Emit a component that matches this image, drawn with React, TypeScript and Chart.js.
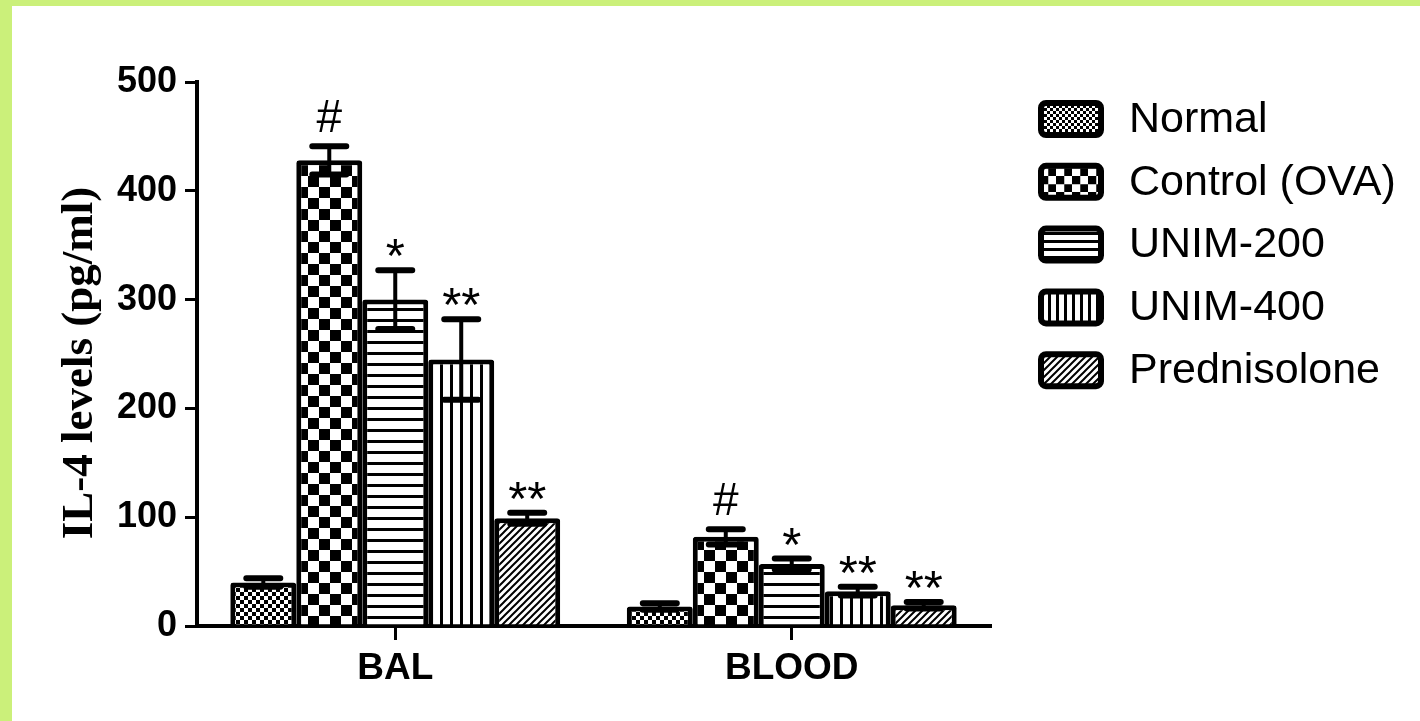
import React, { useEffect, useRef } from "react";
import { Chart, registerables } from "chart.js";

Chart.register(...registerables);

const categories = ["BAL", "BLOOD"];
const seriesNames = ["Normal", "Control (OVA)", "UNIM-200", "UNIM-400", "Prednisolone"];
const normalValues = [40, 18];
const normalErrors = [4, 3];
const controlValues = [428, 82];
const controlErrors = [13, 7];
const unim200Values = [300, 57];
const unim200Errors = [27, 5];
const unim400Values = [245, 32];
const unim400Errors = [37, 4];
const predValues = [99, 19];
const predErrors = [5, 3];
const normalMarks = ["", ""];
const controlMarks = ["#", "#"];
const unim200Marks = ["*", "*"];
const unim400Marks = ["**", "**"];
const predMarks = ["**", "**"];
const yTicks = [0, 100, 200, 300, 400, 500];
const yTitle = "IL-4 levels (pg/ml)";

const patternKinds = ["fineCheck", "check", "hstripe", "vstripe", "diag"];

function makePattern(kind: string, scale = 1): CanvasPattern {
  const c = document.createElement("canvas");
  let ctx: CanvasRenderingContext2D;
  if (kind === "fineCheck") {
    const s = 4 * scale;
    c.width = s * 2; c.height = s * 2;
    ctx = c.getContext("2d")!;
    ctx.fillStyle = "#fff"; ctx.fillRect(0, 0, c.width, c.height);
    ctx.fillStyle = "#000";
    ctx.fillRect(0, 0, s, s); ctx.fillRect(s, s, s, s);
  } else if (kind === "check") {
    const s = 11 * scale;
    c.width = s * 2; c.height = s * 2;
    ctx = c.getContext("2d")!;
    ctx.fillStyle = "#fff"; ctx.fillRect(0, 0, c.width, c.height);
    ctx.fillStyle = "#000";
    ctx.fillRect(0, 0, s, s); ctx.fillRect(s, s, s, s);
  } else if (kind === "hstripe") {
    c.width = 4; c.height = Math.round(11 * scale);
    ctx = c.getContext("2d")!;
    ctx.fillStyle = "#fff"; ctx.fillRect(0, 0, c.width, c.height);
    ctx.fillStyle = "#000"; ctx.fillRect(0, 0, c.width, 3);
  } else if (kind === "vstripe") {
    c.width = Math.round(10 * scale); c.height = 4;
    ctx = c.getContext("2d")!;
    ctx.fillStyle = "#fff"; ctx.fillRect(0, 0, c.width, c.height);
    ctx.fillStyle = "#000"; ctx.fillRect(0, 0, 3, c.height);
  } else {
    const s = 7;
    c.width = s; c.height = s;
    ctx = c.getContext("2d")!;
    ctx.fillStyle = "#fff"; ctx.fillRect(0, 0, s, s);
    ctx.strokeStyle = "#000"; ctx.lineWidth = 2;
    ctx.beginPath();
    ctx.moveTo(-1, s + 1); ctx.lineTo(s + 1, -1);
    ctx.moveTo(-2, 2); ctx.lineTo(2, -2);
    ctx.moveTo(s - 2, s + 2); ctx.lineTo(s + 2, s - 2);
    ctx.stroke();
  }
  return ctx.createPattern(c, "repeat")!;
}

export default function App() {
  const ref = useRef<HTMLCanvasElement>(null);
  useEffect(() => {
    const canvas = ref.current!;
    const values = [normalValues, controlValues, unim200Values, unim400Values, predValues];
    const errors = [normalErrors, controlErrors, unim200Errors, unim400Errors, predErrors];
    const marks = [normalMarks, controlMarks, unim200Marks, unim400Marks, predMarks];
    const patterns = patternKinds.map((k) => makePattern(k));
    const legendPatterns = patternKinds.map((k) => makePattern(k, 0.75));

    const extras = {
      id: "extras",
      afterDatasetsDraw(chart: any) {
        const ctx: CanvasRenderingContext2D = chart.ctx;
        const y = chart.scales.y;
        ctx.save();
        chart.data.datasets.forEach((ds: any, di: number) => {
          const meta = chart.getDatasetMeta(di);
          meta.data.forEach((el: any, i: number) => {
            const v = values[di][i];
            const e = errors[di][i];
            const top = y.getPixelForValue(v + e);
            const bot = y.getPixelForValue(v - e);
            ctx.strokeStyle = "#000";
            ctx.lineCap = "round";
            ctx.lineWidth = 4;
            ctx.beginPath();
            ctx.moveTo(el.x, top); ctx.lineTo(el.x, bot);
            ctx.stroke();
            ctx.lineWidth = 6;
            ctx.beginPath();
            ctx.moveTo(el.x - 17, top); ctx.lineTo(el.x + 17, top);
            ctx.moveTo(el.x - 17, bot); ctx.lineTo(el.x + 17, bot);
            ctx.stroke();
            const m = marks[di][i];
            if (m) {
              ctx.font = (m === "#" ? "46px" : "49px") + " 'Liberation Sans', Arial, sans-serif";
              ctx.fillStyle = "#000";
              ctx.textAlign = "center";
              ctx.textBaseline = "alphabetic";
              const tm = ctx.measureText(m);
              ctx.fillText(m, el.x, top - 14 - tm.actualBoundingBoxDescent);
            }
          });
        });
        ctx.restore();
      },
      afterDraw(chart: any) {
        const ctx: CanvasRenderingContext2D = chart.ctx;
        ctx.save();
        ctx.translate(80, 363);
        ctx.rotate(-Math.PI / 2);
        ctx.font = "bold 45px 'Liberation Serif', 'Times New Roman', serif";
        ctx.fillStyle = "#000";
        ctx.textAlign = "center";
        ctx.textBaseline = "middle";
        ctx.fillText(yTitle, 0, 0);
        ctx.restore();
        ctx.save();
        seriesNames.forEach((name, i) => {
          const cy = 119 + i * 62.8;
          ctx.beginPath();
          (ctx as any).roundRect(1041, cy - 16, 60, 32, 5);
          ctx.fillStyle = legendPatterns[i];
          ctx.fill();
          ctx.lineWidth = 6;
          ctx.strokeStyle = "#000";
          ctx.stroke();
          ctx.font = "43px 'Liberation Sans', Arial, sans-serif";
          ctx.fillStyle = "#000";
          ctx.textAlign = "left";
          ctx.textBaseline = "middle";
          ctx.fillText(name, 1129, cy + 1);
        });
        ctx.restore();
      },
    };

    const chart = new Chart(canvas, {
      type: "bar",
      data: {
        labels: categories,
        datasets: seriesNames.map((n, i) => ({
          label: n,
          data: values[i],
          backgroundColor: patterns[i] as any,
          borderColor: "#000",
          borderWidth: 5,
          borderRadius: 3,
          categoryPercentage: 0.832,
          barPercentage: 1,
        })),
      },
      options: {
        responsive: false,
        animation: false,
        devicePixelRatio: 1,
        layout: { padding: { left: 0, top: 82, right: 430, bottom: 0 } },
        plugins: { legend: { display: false }, tooltip: { enabled: false } },
        scales: {
          x: {
            afterFit: (s: any) => { s.height = 95; },
            border: { display: true, color: "#000", width: 4 },
            grid: { display: true, drawOnChartArea: false, offset: false, color: "#000", lineWidth: 3, tickLength: 14 },
            ticks: {
              color: "#000",
              font: { family: "'Liberation Sans', Arial, sans-serif", size: 37, weight: "bold" },
              padding: 7,
              maxRotation: 0,
              autoSkip: false,
            },
          },
          y: {
            min: 0,
            max: 500,
            afterFit: (s: any) => { s.width = 197; },
            afterBuildTicks: (s: any) => { s.ticks = yTicks.map((v) => ({ value: v })); },
            border: { display: true, color: "#000", width: 4 },
            grid: { display: true, drawOnChartArea: false, color: "#000", lineWidth: 3, tickLength: 12 },
            ticks: {
              color: "#000",
              font: { family: "'Liberation Sans', Arial, sans-serif", size: 36, weight: "bold" },
              padding: 8,
            },
          },
        },
      },
      plugins: [extras],
    });
    return () => chart.destroy();
  }, []);

  return (
    <div style={{ position: "fixed", left: 0, top: 0, width: 1420, height: 721, background: "rgb(203,240,122)", overflow: "hidden" }}>
      <div style={{ position: "absolute", left: 12, top: 6, right: 0, bottom: 0, background: "#fff" }} />
      <canvas ref={ref} width={1420} height={721} style={{ position: "absolute", left: 0, top: 0, width: 1420, height: 721 }} />
    </div>
  );
}
